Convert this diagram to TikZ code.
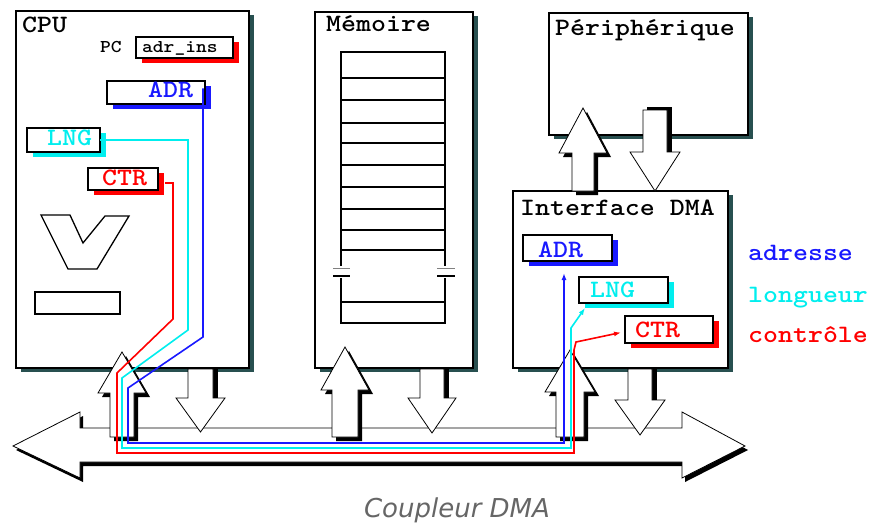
\documentclass[tikz,border=0pt]{standalone}
\usepackage{fontspec}
\newfontfamily\labfont{lmmonolt10-bold.otf}[FakeStretch=1.14]
\newfontfamily\capfont{DejaVu Sans}
\usetikzlibrary{shadows,arrows.meta,calc}

\definecolor{boxshade}{RGB}{40,80,80}
\definecolor{wblue}{RGB}{25,25,255}
\definecolor{wcyan}{RGB}{0,238,238}
\definecolor{wred}{RGB}{255,0,0}
\definecolor{capgray}{RGB}{102,102,102}

\tikzset{
  unitbox/.style={rectangle, draw, line width=1.5pt, fill=white, inner sep=0pt, outer sep=0pt,
    drop shadow={shadow xshift=5pt, shadow yshift=-4pt, fill=boxshade, opacity=1}},
  title/.style={font=\labfont\fontsize{25}{25}\selectfont, anchor=base west, inner sep=0pt},
  small/.style={font=\labfont\fontsize{18}{18}\selectfont, anchor=base west, inner sep=0pt},
  reg/.style={rectangle, draw, line width=1.3pt, fill=white, inner sep=0pt, outer sep=0pt,
    drop shadow={shadow xshift=6pt, shadow yshift=-5pt, fill=#1, opacity=1}},
  fat/.style={draw=black, line width=0.8pt, fill=white, line join=miter},
  wire/.style={line width=1.6pt, line join=miter},
  tip/.style={-{Latex[length=7pt,width=5pt]}},
  part/.style={draw, line width=1.3pt},
}

% upward block arrow: x, tip y, half head width, head base y, half shaft width, bottom y
\newcommand\FatUp[6]{%
  \fill[black, shift={(4,4)}] (#1,#2) -- ({#1+#3},#4) -- ({#1+#5},#4) -- ({#1+#5},#6)
     -- ({#1-#5},#6) -- ({#1-#5},#4) -- ({#1-#3},#4) -- cycle;
  \path[fat] (#1,#2) -- ({#1+#3},#4) -- ({#1+#5},#4) -- ({#1+#5},#6)
     -- ({#1-#5},#6) -- ({#1-#5},#4) -- ({#1-#3},#4) -- cycle;}
% downward block arrow: x, top y, half shaft width, head base y, half head width, tip y
\newcommand\FatDown[6]{%
  \fill[black] ({#1+#3-1},#2) rectangle ({#1+#3+5},{#4+4});
  \path[fat] ({#1-#3},#2) -- ({#1+#3},#2) -- ({#1+#3},#4) -- ({#1+#5},#4) -- (#1,#6)
     -- ({#1-#5},#4) -- ({#1-#3},#4) -- cycle;}

\begin{document}
\begin{tikzpicture}[x=1pt, y=-1pt]
\useasboundingbox (0,0) rectangle (874,524);

% units
\node[unitbox, minimum width=233pt, minimum height=357pt] (cpu) at (132.5,189.5) {};
\node[unitbox, minimum width=158pt, minimum height=356pt] (mem) at (394,190) {};
\node[unitbox, minimum width=199pt, minimum height=122pt] (per) at (648.5,74) {};
\node[unitbox, minimum width=215pt, minimum height=177pt] (dma) at (620.5,279.5) {};

\node[title] (cpuT) at (22,33) {CPU};
\node[title] (memT) at (326,32) {Mémoire};
\node[title] (perT) at (555,36) {Périphérique};
\node[title] (dmaT) at (520,215) {Interface DMA};

% CPU registers
\node[small] (pcT) at (100,53) {PC};
\node[reg=wred, minimum width=97pt, minimum height=21pt] (cpc) at (184.5,47.5) {};
\node[small] (pcV) at (142,53) {adr\_ins};
\node[reg=wblue, minimum width=98pt, minimum height=23pt] (cadr) at (156,92.5) {};
\node[title, text=wblue] (cadrT) at (148,98) {ADR};
\node[reg=wcyan, minimum width=73pt, minimum height=24pt] (clng) at (63.5,140) {};
\node[title, text=wcyan] (clngT) at (47,145) {LNG};
\node[reg=wred, minimum width=70pt, minimum height=22pt] (cctr) at (123,179) {};
\node[title, text=wred] (cctrT) at (102,185) {CTR};

% ALU and accumulator
\draw[part] (41,215) -- (70,215) -- (83,243) -- (105,216) -- (129,216) -- (97,269) -- (68,269) -- cycle;
\draw[part] (35,292) rectangle (120,314);

% memory cells
\draw[part] (341,266) -- (341,52) -- (445,52) -- (445,266);
\draw[part] (341,278) -- (341,323) -- (445,323) -- (445,278);
\foreach \yy in {78,100,123,143,165,187,209,230,250,302}
  \draw[line width=1.3pt] (341,\yy) -- (445,\yy);
\draw[line width=1pt, gray] (333,268) -- (350,268) (437,268) -- (455,268);
\draw[line width=1.3pt] (333,276) -- (350,276) (437,276) -- (455,276);

% DMA registers
\node[reg=wblue, minimum width=89pt, minimum height=26pt] (dadr) at (567.5,248) {};
\node[title, text=wblue] (dadrT) at (538,257) {ADR};
\node[reg=wcyan, minimum width=89pt, minimum height=26pt] (dlng) at (623.5,290) {};
\node[title, text=wcyan] (dlngT) at (590,297) {LNG};
\node[reg=wred, minimum width=88pt, minimum height=27pt] (dctr) at (669,329.5) {};
\node[title, text=wred] (dctrT) at (635,337) {CTR};

% system bus
\fill[black, shift={(3,4)}] (13,446) -- (80,412) -- (80,428) -- (682,428) -- (682,412) -- (745,446)
  -- (682,478) -- (682,462) -- (80,462) -- (80,478) -- cycle;
\path[fat] (13,446) -- (80,412) -- (80,428) -- (682,428) -- (682,412) -- (745,446)
  -- (682,478) -- (682,462) -- (80,462) -- (80,478) -- cycle;

% transfers between units and bus
\FatUp{122}{352}{24}{393}{12}{437}
\FatDown{200.5}{369}{12.5}{398}{24.5}{432}
\FatUp{345}{347}{24}{390}{13}{437}
\FatDown{432}{369}{12}{398}{24}{433}
\FatUp{570}{350}{25}{392}{14}{437}
\FatDown{640}{369}{12}{400}{25}{435}
\FatUp{583}{108}{24}{153}{11}{191}
\fill[black] (647,107) rectangle (672,111);
\FatDown{655}{110}{12}{152}{25}{191}

% control wires from the CPU registers to the DMA interface
\draw[wire, wblue, tip] ($(cadr.east)+(-2,-4)$) -- (203,337) -- (128,388) -- (128,443)
  -- (564,443) -- ($(dadr.south)+(-3.5,12)$);
\draw[wire, wcyan, tip] (clng.east) -- (188,140) -- (188,330) -- (122,378) -- (122,448)
  -- (571,448) -- (571,328) -- ($(dlng.south west)+(6,5)$);
\draw[wire, wred, tip] ($(cctr.east)+(7,4)$) -- (173,183) -- (173,319) -- (117,373) -- (117,453)
  -- (574,453) -- (574,350) -- (576,342) -- ($(dctr.west)+(-4,3)$);

% legend
\node[title, text=wblue] (lgA) at (748,260) {adresse};
\node[title, text=wcyan] (lgL) at (748,302) {longueur};
\node[title, text=wred] (lgC) at (748,342) {contrôle};

% caption
\node[font=\capfont\itshape\fontsize{26}{26}\selectfont, text=capgray, anchor=base, inner sep=0pt]
  (cap) at (457,517) {Coupleur DMA};
\end{tikzpicture}
\end{document}
